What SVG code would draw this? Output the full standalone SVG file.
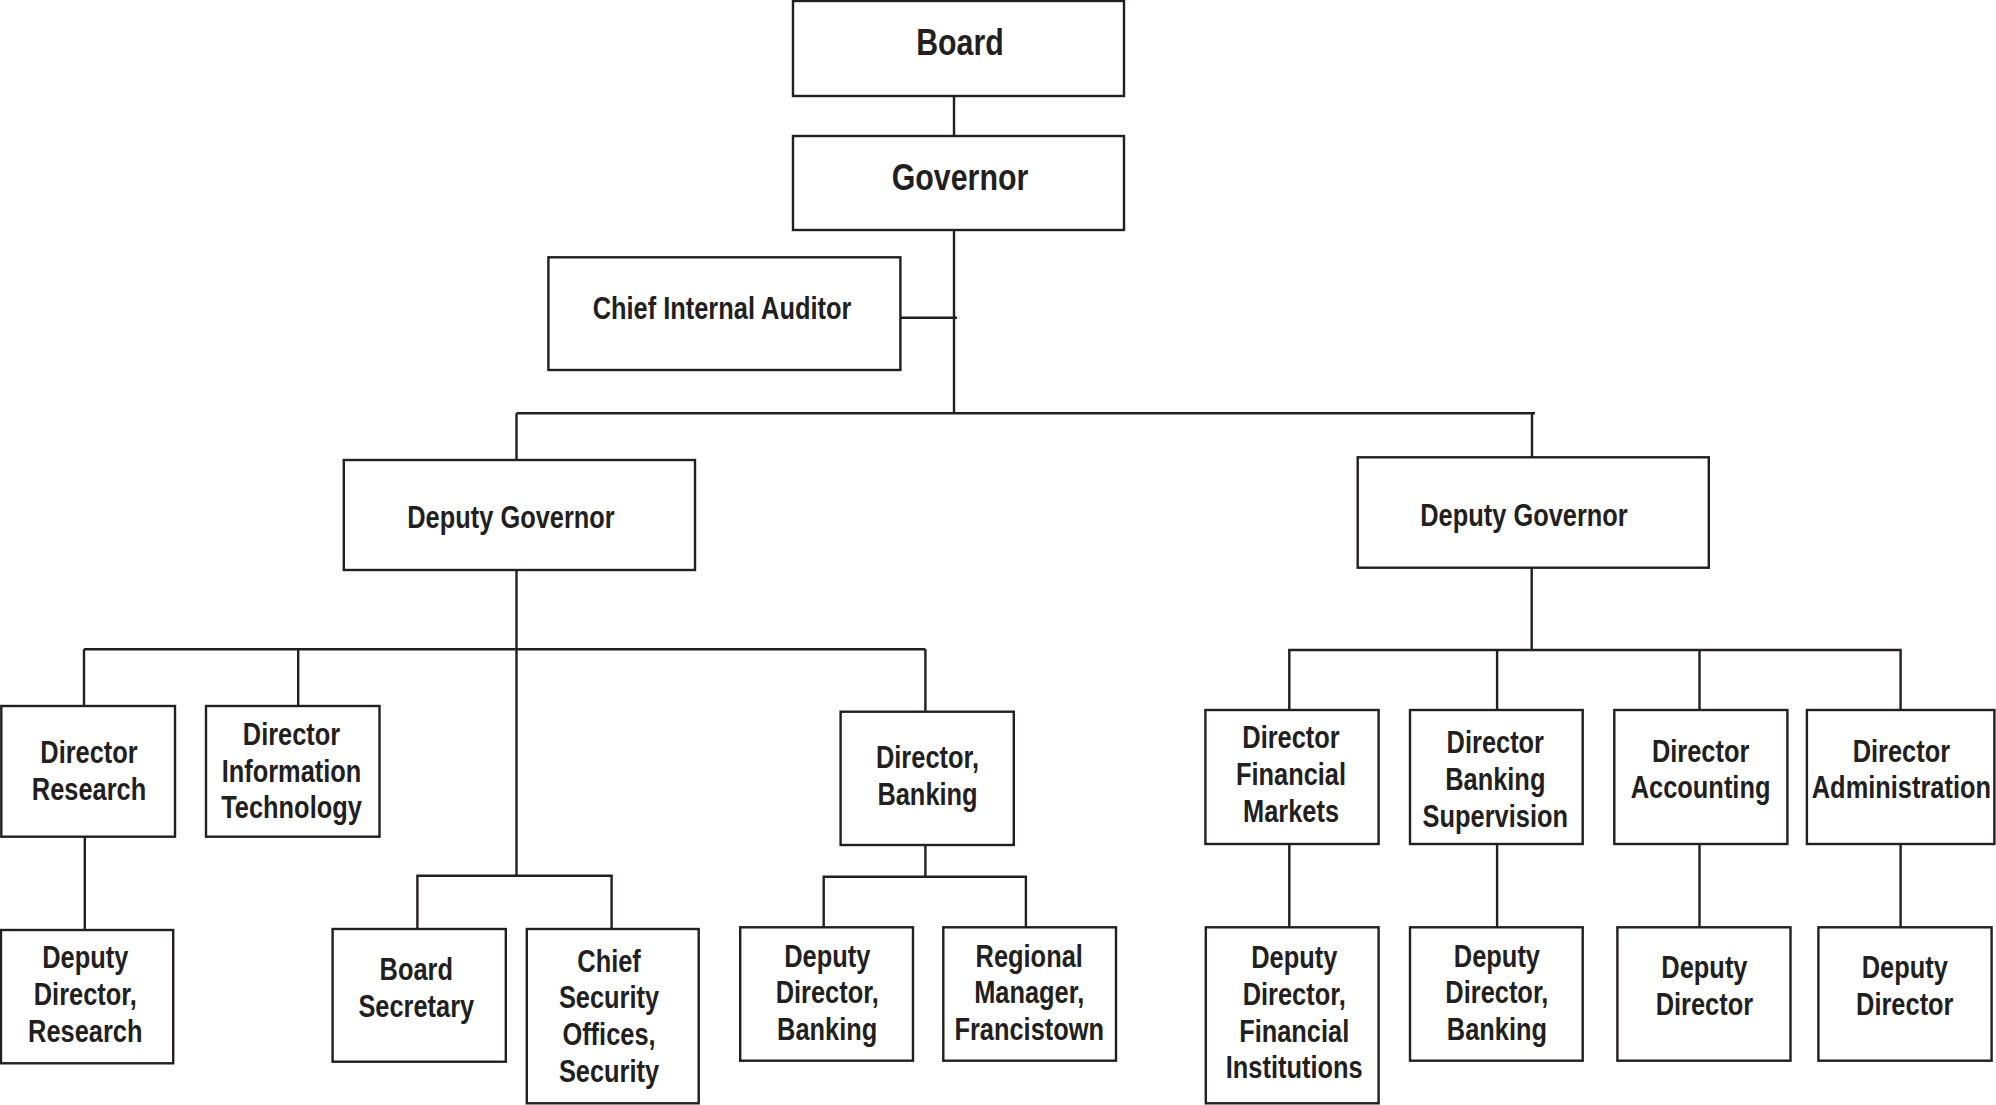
<svg xmlns="http://www.w3.org/2000/svg" width="1996" height="1105" viewBox="0 0 1996 1105">
<style>
.box{fill:#fff;stroke:#231f20;stroke-width:2.4}
.ln{fill:none;stroke:#231f20;stroke-width:2.4}
text{font-family:"Liberation Sans",Arial,sans-serif;font-weight:bold;fill:#231f20;text-anchor:middle;font-size:31px;transform-box:fill-box;transform-origin:center;transform:scaleX(0.82)}
.big{font-size:37px}
</style>
<rect width="1996" height="1105" fill="#fff"/>
<g id="connectors">
<path class="ln" d="M954 96V136"/>
<path class="ln" d="M954 230V413.3"/>
<path class="ln" d="M900 317.7H957"/>
<path class="ln" d="M516.5 413.3H1535M516.5 413.3V460M1532 413.3V457.3"/>
<path class="ln" d="M516.5 570V875.7"/>
<path class="ln" d="M84 649.3H925.4M84 649.3V706M298.2 649.3V706M925.4 649.3V711.7"/>
<path class="ln" d="M84.8 836.7V930"/>
<path class="ln" d="M417.4 929V875.7H611.6V929"/>
<path class="ln" d="M925.4 845V876.7M823.7 927.3V876.7H1025.9V927.3"/>
<path class="ln" d="M1531.7 567.7V650M1289.3 710V650H1900.6V710M1497.1 650V710M1699.5 650V710"/>
<path class="ln" d="M1289.3 844V927.3M1497.1 844V927.3M1699.5 844V927.3M1900.6 844V927.3"/>
</g>
<g id="board"><rect class="box" x="793" y="1" width="331" height="95"/><text class="big" x="960" y="55">Board</text></g>
<g id="governor"><rect class="box" x="793" y="136" width="331" height="94"/><text class="big" x="960" y="190">Governor</text></g>
<g id="auditor"><rect class="box" x="548.4" y="257.3" width="352" height="112.7"/><text x="722" y="319.3">Chief Internal Auditor</text></g>
<g id="dg-left"><rect class="box" x="343.8" y="460" width="351.2" height="110"/><text x="511" y="528.3">Deputy Governor</text></g>
<g id="dg-right"><rect class="box" x="1357.7" y="457.3" width="351.1" height="110.4"/><text x="1524" y="526">Deputy Governor</text></g>
<g id="dir-research"><rect class="box" x="1.3" y="706" width="173.7" height="130.7"/><text x="89" y="763.3">Director</text><text x="89" y="800">Research</text></g>
<g id="dir-it"><rect class="box" x="206" y="706" width="173.5" height="130.7"/><text x="291.5" y="745">Director</text><text x="291.5" y="781.7">Information</text><text x="291.5" y="818.3">Technology</text></g>
<g id="dir-banking"><rect class="box" x="840.6" y="711.7" width="173.2" height="133.3"/><text x="927.5" y="768.3">Director,</text><text x="927.5" y="805">Banking</text></g>
<g id="dir-fm"><rect class="box" x="1205.4" y="710" width="173.2" height="134"/><text x="1291" y="748.3">Director</text><text x="1291" y="785">Financial</text><text x="1291" y="821.7">Markets</text></g>
<g id="dir-bs"><rect class="box" x="1410" y="710" width="172.7" height="134"/><text x="1495.3" y="753.3">Director</text><text x="1495.3" y="790">Banking</text><text x="1495.3" y="826.7">Supervision</text></g>
<g id="dir-acc"><rect class="box" x="1614.3" y="710" width="173.1" height="134"/><text x="1700.6" y="761.7">Director</text><text x="1700.6" y="798.3">Accounting</text></g>
<g id="dir-admin"><rect class="box" x="1806.9" y="710" width="187.5" height="134"/><text x="1901.4" y="761.7">Director</text><text x="1901.4" y="798.3">Administration</text></g>
<g id="dd-research"><rect class="box" x="1" y="930" width="172.2" height="133.3"/><text x="85.3" y="968.3">Deputy</text><text x="85.3" y="1005">Director,</text><text x="85.3" y="1041.7">Research</text></g>
<g id="board-secretary"><rect class="box" x="332.6" y="929" width="173.2" height="132.7"/><text x="416.3" y="980">Board</text><text x="416.3" y="1016.7">Secretary</text></g>
<g id="chief-security"><rect class="box" x="526.8" y="929" width="171.9" height="174.3"/><text x="609" y="971.7">Chief</text><text x="609" y="1008.3">Security</text><text x="609" y="1045">Offices,</text><text x="609" y="1081.7">Security</text></g>
<g id="dd-banking-left"><rect class="box" x="740.2" y="927.3" width="172.8" height="133.4"/><text x="827.2" y="966.7">Deputy</text><text x="827.2" y="1003.3">Director,</text><text x="827.2" y="1040">Banking</text></g>
<g id="regional-manager"><rect class="box" x="943.3" y="927.3" width="172.7" height="133.4"/><text x="1029.2" y="966.7">Regional</text><text x="1029.2" y="1003.3">Manager,</text><text x="1029.2" y="1040">Francistown</text></g>
<g id="dd-fi"><rect class="box" x="1205.8" y="927.3" width="172.8" height="176"/><text x="1294.2" y="968.3">Deputy</text><text x="1294.2" y="1005">Director,</text><text x="1294.2" y="1041.7">Financial</text><text x="1294.2" y="1078.3">Institutions</text></g>
<g id="dd-banking-right"><rect class="box" x="1410" y="927.3" width="172.7" height="133.4"/><text x="1496.9" y="966.7">Deputy</text><text x="1496.9" y="1003.3">Director,</text><text x="1496.9" y="1040">Banking</text></g>
<g id="dd-accounting"><rect class="box" x="1617.4" y="927.3" width="173.1" height="133.4"/><text x="1704.4" y="978.3">Deputy</text><text x="1704.4" y="1015">Director</text></g>
<g id="dd-admin"><rect class="box" x="1818.4" y="927.3" width="173.2" height="133.4"/><text x="1904.8" y="978.3">Deputy</text><text x="1904.8" y="1015">Director</text></g>
</svg>
